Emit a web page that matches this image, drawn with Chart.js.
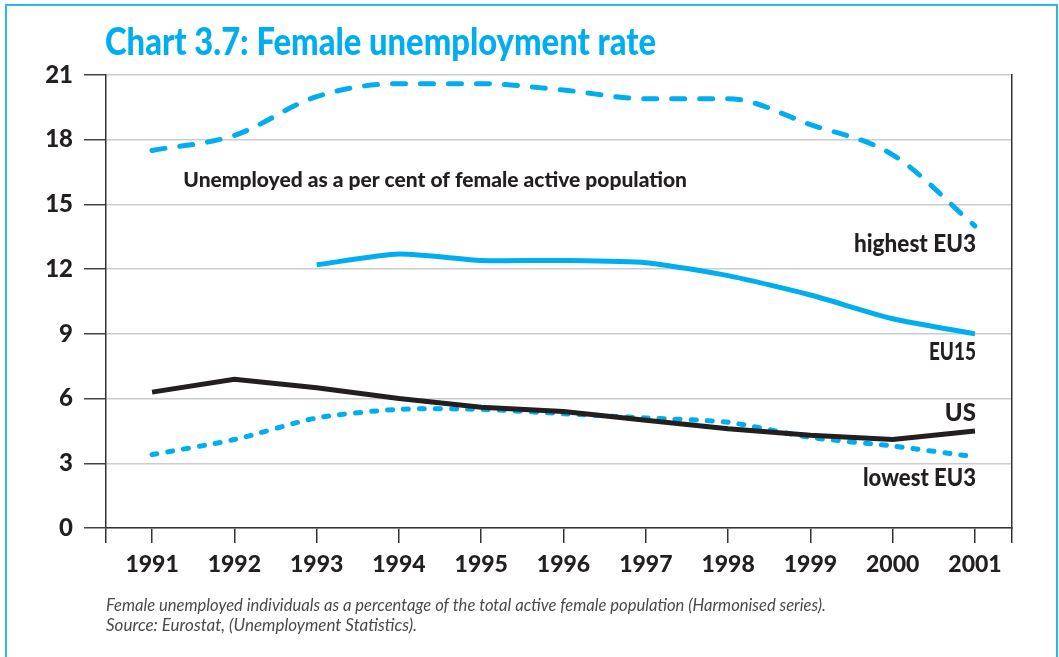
<!DOCTYPE html>
<html>
<head>
<meta charset="utf-8">
<script src="https://cdn.jsdelivr.net/npm/chart.js@4.4.1/dist/chart.umd.min.js"></script>
<style>
  html, body { margin: 0; padding: 0; background: #fff; }
  #wrap { position: relative; width: 1059px; height: 657px; overflow: hidden; }
  #frame { position: absolute; left: 5px; top: 4px; width: 1049px; height: 700px; border: 2px solid #2bb6ec; }
  canvas { position: absolute; left: 0; top: 0; }
</style>
</head>
<body>
<div id="wrap">
  <div id="frame"></div>
  <canvas id="myChart" width="1059" height="657"></canvas>
</div>
<script>
// Data
const years = [1991, 1992, 1993, 1994, 1995, 1996, 1997, 1998, 1999, 2000, 2001];
const highestEU3 = [17.5, 18.2, 20.0, 20.6, 20.6, 20.3, 19.9, 19.9, 18.7, 17.3, 14.0];
const eu15 = [null, null, 12.2, 12.7, 12.4, 12.4, 12.3, 11.7, 10.8, 9.7, 9.0];
const us = [6.3, 6.9, 6.5, 6.0, 5.6, 5.4, 5.0, 4.6, 4.3, 4.1, 4.5];
const lowestEU3 = [3.4, 4.1, 5.1, 5.5, 5.5, 5.3, 5.1, 4.9, 4.2, 3.8, 3.3];
const yTicks = [0, 3, 6, 9, 12, 15, 18, 21];

// Text
const titleText = 'Chart 3.7: Female unemployment rate';
const subtitleText = 'Unemployed as a per cent of female active population';
const seriesLabels = ['highest EU3', 'EU15', 'US', 'lowest EU3'];
const noteLines = [
    'Female unemployed individuals as a percentage of the total active female population (Harmonised series).',
    'Source: Eurostat, (Unemployment Statistics).'
];

const BLUE = '#00aeef';
const DARK = '#231f20';
const FONT = 'Lato, "Open Sans", sans-serif';

function toPoints(values) {
    return years.map((yr, i) => ({ x: yr, y: values[i] }));
}

// Draws the title, subtitle, line labels and the footnote
const textPlugin = {
    id: 'texts',
    afterDraw(chart) {
        const { ctx, scales } = chart;
        const xs = scales.x, ys = scales.y;
        ctx.save();
        ctx.textBaseline = 'alphabetic';

        ctx.fillStyle = BLUE;
        ctx.textAlign = 'left';
        ctx.font = '900 38px ' + FONT;
        ctx.fillText(titleText, 105, 55, 551);

        ctx.fillStyle = DARK;
        ctx.font = '900 21px ' + FONT;
        ctx.fillText(subtitleText, xs.getPixelForValue(1991.38), 187, 505);

        // labels at the right end of each line
        const labelBaselines = [12.8, 7.8, 4.95, 1.95];
        const labelWidths = [122, 47, 34, 113];
        ctx.textAlign = 'right';
        ctx.font = '900 24px ' + FONT;
        seriesLabels.forEach((txt, i) => {
            ctx.fillText(txt, xs.getPixelForValue(2001) + 1, ys.getPixelForValue(labelBaselines[i]), labelWidths[i]);
        });

        ctx.textAlign = 'left';
        ctx.fillStyle = '#4a4a4a';
        ctx.font = 'italic 400 17px ' + FONT;
        ctx.fillText(noteLines[0], 106, 611, 720);
        ctx.fillText(noteLines[1], 106, 631);
        ctx.restore();
    }
};

function renderChart() {
    const ctx = document.getElementById('myChart').getContext('2d');
    const xMin = 1990.44, xMax = 2001.45;

    new Chart(ctx, {
        type: 'line',
        data: {
            datasets: [
                {
                    label: 'US',
                    data: toPoints(us),
                    borderColor: DARK,
                    borderWidth: 5,
                    tension: 0,
                    order: 1
                },
                {
                    label: 'lowest EU3',
                    data: toPoints(lowestEU3),
                    borderColor: BLUE,
                    borderWidth: 5,
                    borderDash: [5, 11],
                    borderCapStyle: 'round',
                    tension: 0.25,
                    order: 2
                },
                {
                    label: 'EU15',
                    data: toPoints(eu15),
                    borderColor: BLUE,
                    borderWidth: 5,
                    tension: 0.2,
                    order: 3
                },
                {
                    label: 'highest EU3',
                    data: toPoints(highestEU3),
                    borderColor: BLUE,
                    borderWidth: 5,
                    borderDash: [13, 15],
                    borderCapStyle: 'round',
                    cubicInterpolationMode: 'monotone',
                    order: 4
                }
            ]
        },
        options: {
            responsive: false,
            animation: false,
            elements: { point: { radius: 0 } },
            layout: { padding: { left: 0, top: 75, right: 47, bottom: 79 } },
            plugins: {
                legend: { display: false },
                tooltip: { enabled: false }
            },
            scales: {
                x: {
                    type: 'linear',
                    min: xMin,
                    max: xMax,
                    afterBuildTicks: (scale) => {
                        scale.ticks = [xMin, ...years, xMax].map(v => ({ value: v }));
                    },
                    afterFit: (scale) => { scale.height = 50; },
                    border: { display: true, color: '#333', width: 1.5 },
                    grid: {
                        drawOnChartArea: false,
                        drawTicks: true,
                        tickLength: 15,
                        tickColor: '#333',
                        lineWidth: 1.5
                    },
                    ticks: {
                        autoSkip: false,
                        maxRotation: 0,
                        padding: 8,
                        color: DARK,
                        font: { family: FONT, size: 23, weight: '900' },
                        callback: (v) => years.includes(v) ? String(v) : ''
                    }
                },
                y: {
                    min: 0,
                    max: 21,
                    afterBuildTicks: (scale) => {
                        scale.ticks = yTicks.map(v => ({ value: v }));
                    },
                    afterFit: (scale) => { scale.width = 106; },
                    border: { display: true, color: '#333', width: 1.5 },
                    grid: {
                        color: '#cccccc',
                        lineWidth: 1.5,
                        tickLength: 22,
                        tickColor: '#444'
                    },
                    ticks: {
                        padding: 11,
                        color: DARK,
                        font: { family: FONT, size: 24, weight: '900' }
                    }
                },
                y2: {
                    position: 'right',
                    min: 0,
                    max: 21,
                    afterFit: (scale) => { scale.width = 0; },
                    border: { display: true, color: '#333', width: 1.5 },
                    grid: { drawOnChartArea: false, drawTicks: false },
                    ticks: { display: false }
                }
            }
        },
        plugins: [textPlugin]
    });
}

renderChart();
</script>
</body>
</html>
